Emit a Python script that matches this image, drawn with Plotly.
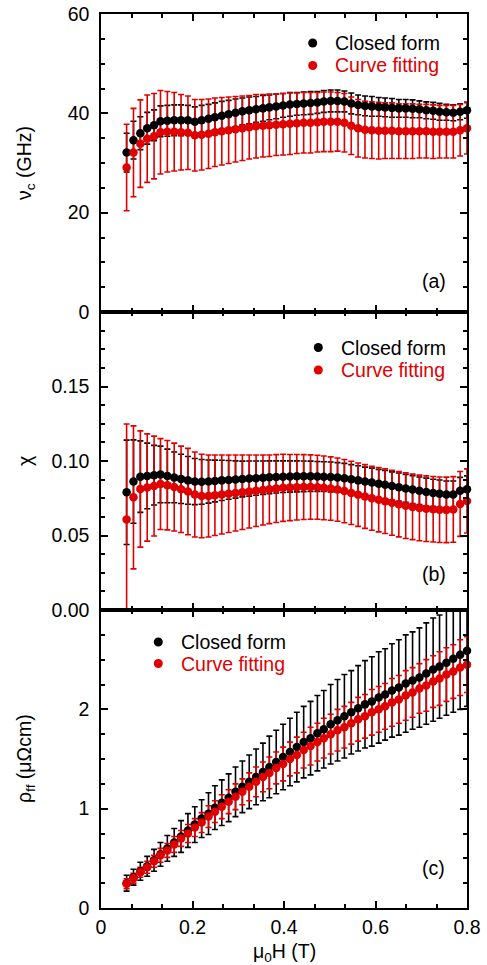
import plotly.graph_objects as go
from plotly.subplots import make_subplots

# ---------------- data ----------------
field_T = [0.056, 0.071, 0.086, 0.101, 0.116, 0.130, 0.145, 0.160, 0.175, 0.190,
           0.205, 0.220, 0.235, 0.249, 0.264, 0.279, 0.294, 0.309, 0.324, 0.339,
           0.354, 0.368, 0.383, 0.398, 0.413, 0.428, 0.443, 0.458, 0.473, 0.487,
           0.502, 0.517, 0.532, 0.547, 0.562, 0.577, 0.592, 0.607, 0.621, 0.636,
           0.651, 0.666, 0.681, 0.696, 0.711, 0.726, 0.740, 0.755, 0.770, 0.785, 0.800]

nu_closed = [32.1, 34.6, 36.0, 37.0, 37.6, 38.4, 38.5, 38.6, 38.6, 38.6,
             38.3, 38.6, 38.9, 39.2, 39.5, 39.8, 40.1, 40.4, 40.6, 40.8,
             41.0, 41.2, 41.4, 41.6, 41.8, 41.9, 42.0, 42.1, 42.2, 42.4,
             42.5, 42.5, 42.4, 42.0, 41.7, 41.5, 41.4, 41.3, 41.2, 41.1,
             41.0, 41.0, 40.9, 40.8, 40.6, 40.5, 40.3, 40.2, 40.1, 40.3, 40.6]
nu_closed_err = [3.9, 3.8, 3.3, 3.2, 3.1, 3.1, 3.1, 3.1, 3.1, 3.0,
                 3.0, 3.0, 2.9, 2.9, 2.9, 2.8, 2.8, 2.7, 2.7, 2.6,
                 2.6, 2.5, 2.5, 2.4, 2.4, 2.3, 2.3, 2.3, 2.2, 2.2,
                 2.2, 2.2, 2.1, 2.1, 2.0, 2.0, 2.0, 1.9, 1.9, 1.9,
                 1.8, 1.8, 1.8, 1.7, 1.7, 1.7, 1.7, 1.6, 1.6, 1.6, 1.6]
nu_fit = [29.1, 32.1, 33.9, 34.9, 35.4, 36.2, 36.3, 36.3, 36.2, 36.1,
          35.6, 35.7, 35.9, 36.2, 36.4, 36.6, 36.8, 37.0, 37.2, 37.4,
          37.5, 37.6, 37.7, 37.8, 37.9, 38.0, 38.1, 38.1, 38.2, 38.3,
          38.3, 38.3, 38.1, 37.5, 37.0, 36.7, 36.6, 36.5, 36.5, 36.5,
          36.4, 36.4, 36.4, 36.4, 36.4, 36.3, 36.3, 36.3, 36.3, 36.6, 37.0]
nu_fit_err = [8.7, 8.9, 8.8, 8.8, 8.6, 8.4, 8.1, 7.9, 7.6, 7.4,
              7.2, 7.1, 7.0, 6.9, 6.8, 6.7, 6.6, 6.5, 6.4, 6.4,
              6.3, 6.3, 6.2, 6.2, 6.2, 6.1, 6.1, 6.1, 6.0, 6.0,
              6.0, 5.9, 5.9, 5.8, 5.8, 5.7, 5.7, 5.7, 5.6, 5.6,
              5.5, 5.5, 5.5, 5.4, 5.4, 5.4, 5.3, 5.3, 5.3, 5.2, 5.2]

chi_closed = [0.0790, 0.0862, 0.0895, 0.0900, 0.0905, 0.0910, 0.0900, 0.0890, 0.0880, 0.0870,
              0.0862, 0.0860, 0.0862, 0.0866, 0.0870, 0.0873, 0.0876, 0.0879, 0.0882, 0.0885,
              0.0888, 0.0891, 0.0893, 0.0895, 0.0896, 0.0897, 0.0897, 0.0897, 0.0896, 0.0895,
              0.0893, 0.0890, 0.0885, 0.0878, 0.0870, 0.0862, 0.0855, 0.0848, 0.0840, 0.0832,
              0.0824, 0.0816, 0.0808, 0.0800, 0.0792, 0.0786, 0.0780, 0.0775, 0.0775, 0.0800, 0.0810]
chi_closed_err = [0.035, 0.028, 0.024, 0.022, 0.020, 0.019, 0.018, 0.017, 0.0165, 0.016,
                  0.0155, 0.015, 0.0145, 0.014, 0.0135, 0.013, 0.0125, 0.012, 0.0118, 0.0115,
                  0.0112, 0.011, 0.0108, 0.0106, 0.0105, 0.0104, 0.0103, 0.0102, 0.0101, 0.0100,
                  0.0100, 0.0099, 0.0099, 0.0098, 0.0098, 0.0097, 0.0097, 0.0096, 0.0096, 0.0095,
                  0.0095, 0.0094, 0.0094, 0.0093, 0.0093, 0.0092, 0.0092, 0.0091, 0.0091, 0.0090, 0.0090]
chi_fit = [0.0608, 0.0756, 0.0812, 0.0822, 0.0832, 0.0845, 0.0838, 0.0825, 0.0810, 0.0795,
           0.0775, 0.0765, 0.0765, 0.0770, 0.0775, 0.0780, 0.0785, 0.0790, 0.0795, 0.0800,
           0.0805, 0.0810, 0.0815, 0.0820, 0.0822, 0.0824, 0.0825, 0.0825, 0.0824, 0.0820,
           0.0815, 0.0808, 0.0798, 0.0786, 0.0774, 0.0762, 0.0750, 0.0740, 0.0730, 0.0720,
           0.0710, 0.0700, 0.0692, 0.0685, 0.0680, 0.0676, 0.0673, 0.0672, 0.0675, 0.0712, 0.0732]
chi_fit_err = [0.064, 0.048, 0.039, 0.036, 0.0335, 0.0305, 0.030, 0.0295, 0.029, 0.029,
               0.0285, 0.028, 0.0275, 0.027, 0.0265, 0.026, 0.0255, 0.025, 0.0245, 0.024,
               0.0235, 0.023, 0.0228, 0.0225, 0.0222, 0.022, 0.0218, 0.0216, 0.0215, 0.0214,
               0.0213, 0.0212, 0.0212, 0.0212, 0.0213, 0.0214, 0.0215, 0.0216, 0.0217, 0.0218,
               0.0219, 0.022, 0.022, 0.022, 0.022, 0.022, 0.022, 0.022, 0.022, 0.0218, 0.0215]

rho_closed = [0.25, 0.31, 0.37, 0.42, 0.48, 0.54, 0.60, 0.66, 0.72, 0.78,
              0.84, 0.90, 0.95, 1.01, 1.06, 1.11, 1.17, 1.22, 1.27, 1.32,
              1.37, 1.42, 1.47, 1.52, 1.57, 1.62, 1.67, 1.71, 1.76, 1.80,
              1.85, 1.89, 1.93, 1.97, 2.01, 2.05, 2.08, 2.12, 2.15, 2.19,
              2.22, 2.26, 2.29, 2.32, 2.36, 2.40, 2.43, 2.47, 2.51, 2.55, 2.59]
rho_closed_err = [0.08, 0.08, 0.09, 0.10, 0.11, 0.12, 0.13, 0.14, 0.16, 0.17,
                  0.18, 0.19, 0.21, 0.22, 0.23, 0.24, 0.25, 0.26, 0.27, 0.28,
                  0.29, 0.31, 0.32, 0.33, 0.34, 0.35, 0.36, 0.37, 0.38, 0.39,
                  0.40, 0.41, 0.42, 0.42, 0.43, 0.44, 0.45, 0.46, 0.46, 0.47,
                  0.48, 0.49, 0.49, 0.50, 0.51, 0.52, 0.52, 0.53, 0.54, 0.55, 0.56]
rho_fit = [0.245, 0.30, 0.36, 0.41, 0.47, 0.53, 0.58, 0.64, 0.70, 0.75,
           0.81, 0.86, 0.92, 0.97, 1.02, 1.07, 1.12, 1.17, 1.22, 1.27,
           1.32, 1.36, 1.41, 1.45, 1.50, 1.54, 1.59, 1.63, 1.67, 1.71,
           1.75, 1.79, 1.82, 1.86, 1.90, 1.93, 1.97, 2.00, 2.03, 2.07,
           2.10, 2.14, 2.17, 2.21, 2.24, 2.28, 2.31, 2.35, 2.38, 2.42, 2.45]
rho_fit_err = [0.05, 0.05, 0.05, 0.06, 0.06, 0.07, 0.07, 0.08, 0.08, 0.09,
               0.09, 0.10, 0.11, 0.11, 0.12, 0.12, 0.13, 0.13, 0.14, 0.15,
               0.15, 0.16, 0.16, 0.17, 0.17, 0.18, 0.18, 0.19, 0.19, 0.20,
               0.20, 0.21, 0.21, 0.21, 0.22, 0.22, 0.23, 0.23, 0.23, 0.24,
               0.24, 0.25, 0.25, 0.25, 0.26, 0.26, 0.27, 0.27, 0.27, 0.28, 0.28]

series_names = ["Closed form", "Curve fitting"]
panel_labels = ["(a)", "(b)", "(c)"]
y_titles = ["ν<sub>c</sub> (GHz)", "χ", "ρ<sub>ff</sub> (μΩcm)"]
x_title = "μ<sub>0</sub>H (T)"

# ---------------- style ----------------
BLACK = "#000000"
RED = "#E00000"
FONT = "Arial"
FS = 19.5

W, H = 487, 965
ML, MR, MT, MB = 101, 20, 14, 57
PW = W - ML - MR
PH = H - MT - MB


def px_x(px):
    return (px - ML) / PW


def px_y(py):
    return (H - MB - py) / PH


fig = make_subplots(rows=3, cols=1, shared_xaxes=True, vertical_spacing=0)

panels = [
    (nu_closed, nu_closed_err, nu_fit, nu_fit_err),
    (chi_closed, chi_closed_err, chi_fit, chi_fit_err),
    (rho_closed, rho_closed_err, rho_fit, rho_fit_err),
]

for r, (yc, ec, yf, ef) in enumerate(panels, start=1):
    # error bars first (black then red), then markers (black then red)
    for y, e, col in ((yc, ec, BLACK), (yf, ef, RED)):
        fig.add_trace(go.Scatter(
            x=field_T, y=y, mode="markers",
            marker=dict(size=1, color="rgba(0,0,0,0)"),
            error_y=dict(type="data", array=e, symmetric=True, color=col,
                         thickness=1.6, width=3),
            showlegend=False, hoverinfo="skip"), row=r, col=1)
    for y, col, nm in ((yc, BLACK, series_names[0]), (yf, RED, series_names[1])):
        fig.add_trace(go.Scatter(
            x=field_T, y=y, mode="markers", name=nm,
            marker=dict(size=8.5, color=col, line=dict(width=0)),
            cliponaxis=False, showlegend=False), row=r, col=1)

line_style = dict(
    showline=True, linecolor=BLACK, linewidth=1.5, mirror="ticks",
    ticks="inside", ticklen=7, tickwidth=1.5, tickcolor=BLACK,
    showgrid=False, zeroline=False,
    tickfont=dict(family=FONT, size=FS, color=BLACK),
)
minor_style = dict(ticks="inside", ticklen=4, tickwidth=1.5, tickcolor=BLACK, showgrid=False)

for r in (1, 2, 3):
    fig.update_xaxes(range=[0, 0.8], tick0=0, dtick=0.2, ticklabelstandoff=1,
                     minor=dict(tick0=0, dtick=0.2 / 3, **minor_style),
                     showticklabels=(r == 3), **line_style, row=r, col=1)

y_specs = [
    dict(range=[0, 60], tickvals=[0, 20, 40, 60], ticktext=["0", "20", "40", "60"], mdt=5),
    dict(range=[0, 0.2], tickvals=[0, 0.05, 0.10, 0.15], ticktext=["0.00", "0.05", "0.10", "0.15"], mdt=0.0125),
    dict(range=[0, 3], tickvals=[0, 1, 2], ticktext=["0", "1", "2"], mdt=0.25),
]
for r, sp in enumerate(y_specs, start=1):
    fig.update_yaxes(range=sp["range"], tickmode="array", tickvals=sp["tickvals"],
                     ticktext=sp["ticktext"], ticklabelstandoff=6,
                     minor=dict(tickmode="linear", tick0=0, dtick=sp["mdt"], **minor_style),
                     **line_style, row=r, col=1)

annotations = []
shapes = []
yrefs = ["y domain", "y2 domain", "y3 domain"]

# y axis titles
for i, t in enumerate(y_titles):
    annotations.append(dict(text=t, textangle=-90, xref="paper", yref=yrefs[i],
                            x=px_x(25), y=0.5, xanchor="center", yanchor="middle",
                            showarrow=False, font=dict(family=FONT, size=FS, color=BLACK)))
# x axis title
annotations.append(dict(text=x_title, xref="paper", yref="paper",
                        x=0.5, y=px_y(952), xanchor="center", yanchor="middle",
                        showarrow=False, font=dict(family=FONT, size=FS, color=BLACK)))
# panel labels
label_pos = [(434, 281.5), (434, 574), (433, 867.5)]
for i, (lx, ly) in enumerate(label_pos):
    annotations.append(dict(text=panel_labels[i], xref="paper", yref="paper",
                            x=px_x(lx), y=px_y(ly), xanchor="center", yanchor="middle",
                            showarrow=False, font=dict(family=FONT, size=FS, color=BLACK)))

# legends (marker + text) per panel
legend_pos = [  # marker x, text x, y1, y2
    (312.7, 333, 43, 65.5),
    (318.3, 339, 347.5, 370),
    (158.3, 179, 642, 663.5),
]
for mx, tx, y1, y2 in legend_pos:
    for yy, col, nm in ((y1, BLACK, series_names[0]), (y2, RED, series_names[1])):
        shapes.append(dict(type="circle", xref="paper", yref="paper",
                           xsizemode="pixel", ysizemode="pixel",
                           xanchor=px_x(mx), yanchor=px_y(yy),
                           x0=-4.5, x1=4.5, y0=-4.5, y1=4.5,
                           fillcolor=col, line=dict(width=0)))
        annotations.append(dict(text=nm, xref="paper", yref="paper",
                                x=px_x(tx), y=px_y(yy), xanchor="left", yanchor="middle",
                                showarrow=False, font=dict(family=FONT, size=FS, color=col)))

fig.update_layout(
    width=W, height=H,
    margin=dict(l=ML, r=MR, t=MT, b=MB, autoexpand=False),
    paper_bgcolor="white", plot_bgcolor="white",
    showlegend=False,
    annotations=annotations, shapes=shapes,
    font=dict(family=FONT, size=FS, color=BLACK),
)

fig.write_html("out.html")
